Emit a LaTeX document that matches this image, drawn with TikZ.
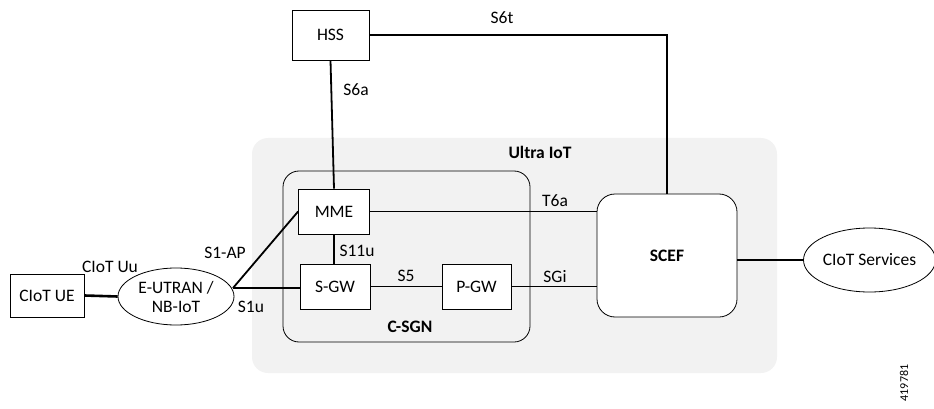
\documentclass[tikz,border=0pt]{standalone}
\usepackage{fontspec}
\setmainfont{Carlito}
\usetikzlibrary{shapes.geometric}
\begin{document}
\begin{tikzpicture}[x=1pt,y=-1pt,
  font=\fontsize{17.5}{19}\selectfont,
  box/.style={draw=black,line width=0.8pt,fill=white,inner sep=0pt},
  oval/.style={ellipse,draw=black,line width=0.8pt,fill=white,inner sep=0pt,align=center},
  region/.style={rounded corners=16pt,inner sep=0pt},
  link/.style={draw=black,line width=1.8pt},
  thick link/.style={draw=black,line width=2.6pt},
  lbl/.style={inner sep=0pt},
  blbl/.style={inner sep=0pt,font=\fontsize{17.5}{19}\selectfont\bfseries}]
\useasboundingbox (0,0) rectangle (934,409);
% containers
\node[region,fill=black!5,minimum width=525pt,minimum height=235pt] (ultra) at (514.5,255.5) {};
\node[region,draw=black,line width=0.8pt,minimum width=247pt,minimum height=171pt] (csgn) at (406.5,256.5) {};
\node[blbl] (ultralbl) at (540,152) {Ultra IoT};
\node[blbl] (csgnlbl) at (410,327) {C-SGN};
% nodes
\node[box,minimum width=77pt,minimum height=50pt] (hss) at (330.5,35) {HSS};
\node[box,minimum width=71pt,minimum height=45pt] (mme) at (334,211.5) {MME};
\node[box,minimum width=70pt,minimum height=45pt] (sgw) at (335,286.5) {S-GW};
\node[box,minimum width=69pt,minimum height=45pt] (pgw) at (476.5,286.5) {P-GW};
\node[box,rounded corners=18pt,minimum width=140pt,minimum height=123pt,font=\fontsize{17.5}{19}\selectfont\bfseries] (scef) at (667,255.5) {SCEF};
\node[box,minimum width=74pt,minimum height=43pt] (ue) at (47,295.5) {CIoT UE};
\node[oval,minimum width=116pt,minimum height=57pt] (eu) at (176,296.5) {E-UTRAN /\\NB-IoT};
\node[oval,minimum width=127pt,minimum height=64pt] (srv) at (869.5,260) {CIoT Services};
\coordinate (j) at (233,288);
% connectors
\draw[link] (hss.south) -- (mme.north);
\draw[link] (hss.east) -| (scef.north);
\draw[link] (mme.east) -- (mme.east -| scef.west);
\draw[link] (mme.south) -- (mme.south |- sgw.north);
\draw[link] (sgw.east) -- (pgw.west);
\draw[link] (pgw.east) -- (pgw.east -| scef.west);
\draw[link] (j) -- (mme.west);
\draw[link] (j) -- (j -| sgw.west);
\draw[thick link] (srv.west -| scef.east) -- (srv.west);
\draw[thick link] (ue.east) -- (eu.west);
% labels
\node[lbl] (s6t) at (502,18) {S6t};
\node[lbl] (s6a) at (356,90) {S6a};
\node[lbl] (t6a) at (555,201) {T6a};
\node[lbl] (sgi) at (555,277) {SGi};
\node[lbl] (s11u) at (357,251) {S11u};
\node[lbl] (s5) at (406,276) {S5};
\node[lbl] (s1ap) at (225,253) {S1-AP};
\node[lbl] (s1u) at (251,307) {S1u};
\node[lbl] (uu) at (110,267) {CIoT Uu};
\node[lbl,rotate=90,font=\fontsize{12}{13}\selectfont] (fig) at (904,383) {419781};
\end{tikzpicture}
\end{document}
